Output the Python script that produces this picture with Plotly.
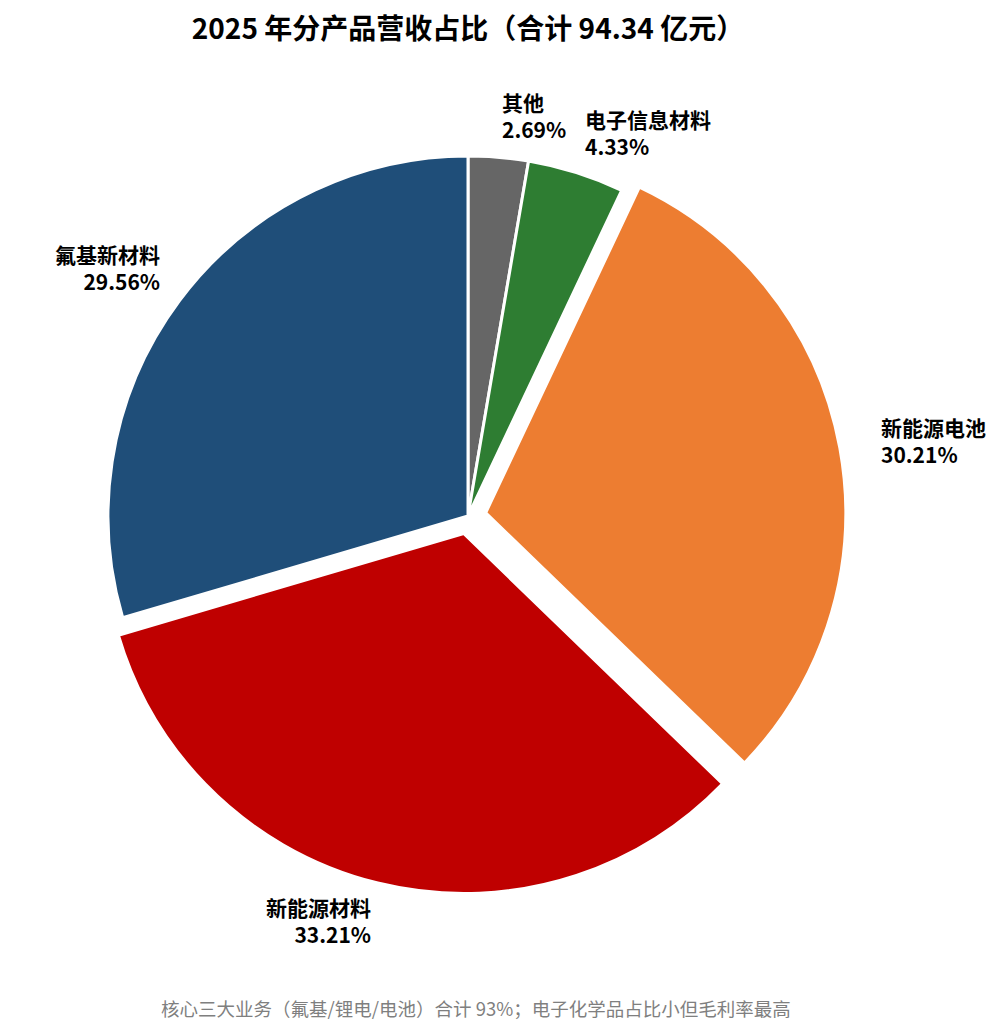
import math
import plotly.graph_objects as go

# 2025 revenue share by product line (%, total 94.34 亿元)
labels = ["其他", "电子信息材料", "新能源电池", "新能源材料", "氟基新材料"]
shares = [2.69, 4.33, 30.21, 33.21, 29.56]
colors = ["#666666", "#2e7d32", "#ed7d31", "#bf0000", "#1f4e79"]
pulls = [0, 0, 0.05, 0.05, 0]

title_text = "2025 年分产品营收占比（合计 94.34 亿元）"
note_text = "核心三大业务（氟基/锂电/电池）合计 93%；电子化学品占比小但毛利率最高"

font_name = "Noto Sans CJK SC"

W, H = 1000, 1035
L, R, T, B = 72, 152, 130, 149
pw, ph = W - L - R, H - T - B
cx, cy = L + pw / 2, T + ph / 2
radius = min(pw, ph) / 2 / (1 + max(pulls))

fig = go.Figure()
fig.add_trace(go.Pie(
    labels=labels,
    values=shares,
    sort=False,
    direction="clockwise",
    rotation=0,
    pull=pulls,
    marker=dict(colors=colors, line=dict(color="white", width=3)),
    textinfo="none",
    showlegend=False,
    hoverinfo="label+percent",
))

# outside labels, aligned away from the pie like the original
total = sum(shares)
annotations = []
cum = 0
for lab, val, pull in zip(labels, shares, pulls):
    mid = (cum + val / 2) / total * 2 * math.pi
    cum += val
    s, c = math.sin(mid), math.cos(mid)
    dist = radius * (1 + pull) + 22
    if abs(c) < 0.3:
        yanchor = "middle"
        dist += 18
    else:
        yanchor = "bottom" if c > 0 else "top"
    px = cx + dist * s
    py = cy - dist * c
    # annotation boxes carry some line padding, pull them back in
    if yanchor == "bottom":
        py += 11
    elif yanchor == "top":
        py -= 14
    annotations.append(dict(
        text="<b>%s<br>%.2f%%</b>" % (lab, val / total * 100),
        xref="paper", yref="paper",
        x=(px - L) / pw, y=1 - (py - T) / ph,
        xanchor="left" if s > 0 else "right",
        yanchor=yanchor,
        align="left" if s > 0 else "right",
        showarrow=False,
        font=dict(family=font_name, size=21, color="black"),
    ))

annotations.append(dict(
    text=note_text,
    xref="paper", yref="paper",
    x=(468 - L) / pw, y=1 - (1000 - T) / ph,
    xanchor="center", yanchor="middle",
    showarrow=False,
    font=dict(family=font_name, size=18.5, color="#7f7f7f"),
))

fig.update_layout(
    width=W,
    height=H,
    margin=dict(l=L, r=R, t=T, b=B),
    paper_bgcolor="white",
    plot_bgcolor="white",
    font=dict(family=font_name),
    title=dict(
        text="<b>" + title_text + "</b>",
        x=0.5,
        xref="paper",
        xanchor="center",
        y=1 - 21 / H,
        yanchor="middle",
        yref="container",
        font=dict(family=font_name, size=28, color="black"),
    ),
    annotations=annotations,
)

fig.write_html("out.html")
